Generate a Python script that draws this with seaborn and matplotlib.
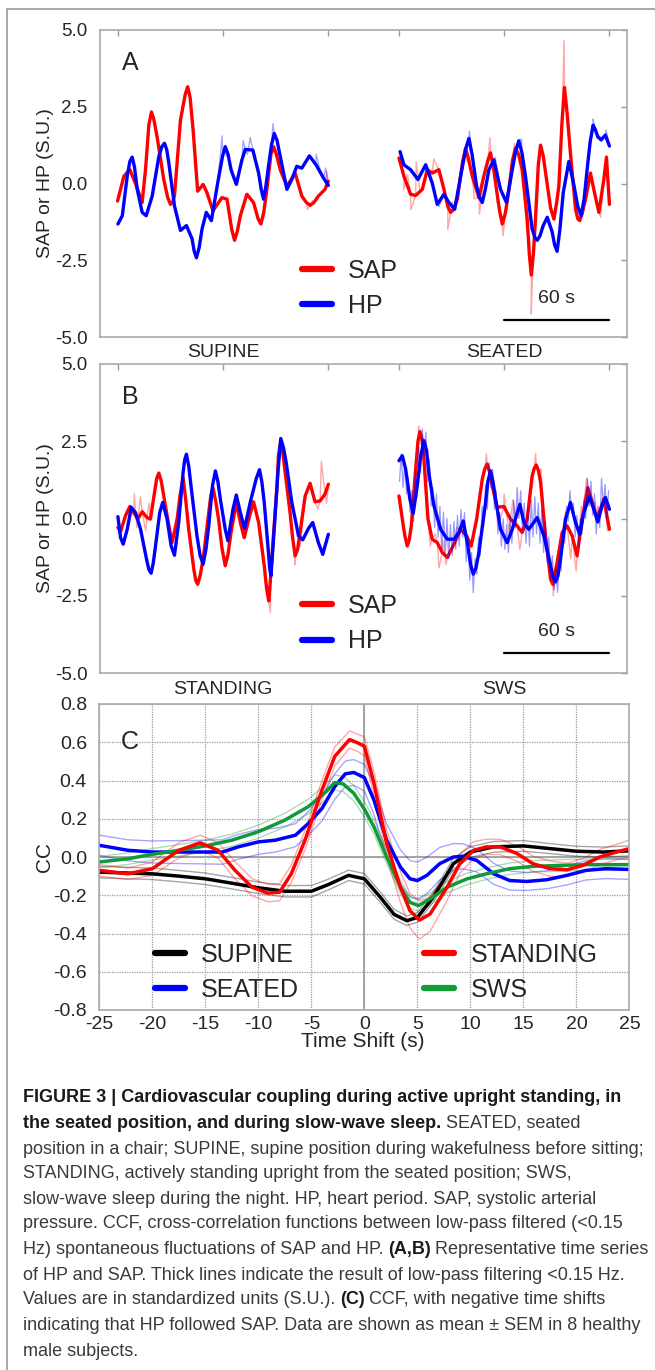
import numpy as np
import matplotlib
matplotlib.use('Agg')
import matplotlib.pyplot as plt
import matplotlib.transforms as mtransforms
from matplotlib.lines import Line2D
import seaborn as sns

sns.set_style('white')
plt.rcParams['font.family'] = ['Liberation Sans', 'DejaVu Sans']

# ---------------- Panel A: SUPINE (0-120 s) and SEATED (160-280 s) ----------------
supine_sap_t = [0, 3.6, 7.0, 10.2, 14.0, 15.9, 19.3, 22.5, 26.3, 30.1, 32.4, 35.8, 39.9, 43.0, 45.6, 48.7, 50.9,
                54.3, 59.4, 62.3, 66.6, 69.9, 73.6, 77.4, 81.6, 85.0, 88.8, 92.6, 96.4, 101.1, 104.9, 109.6,
                114.3, 118.1, 120]
supine_sap = [-0.57, 0.24, 0.45, 0.0, -0.62, 0.45, 2.33, 1.52, 0.13, -0.68, -0.4, 2.06, 3.15, 1.74, -0.25, -0.03,
              -0.3, -0.89, -0.46, -0.51, -1.85, -1.05, -0.35, -0.62, -1.32, -0.19, 1.2, 0.45, -0.09, 0.34, -0.41,
              -0.71, -0.41, -0.19, 0.07]
# extra points read around the peaks (shoulders of the smooth curve)
supine_sap_sh_t = [17.8, 20.6, 28.5, 31.4, 38.5, 41.3, 65.0, 68.2, 80.0, 83.2, 87.3, 90.4, 107.5, 111.8]
supine_sap_sh = [1.9, 2.1, -0.45, -0.6, 2.9, 2.8, -1.5, -1.55, -1.15, -0.95, 0.95, 0.95, -0.62, -0.62]
supine_hp_t = [0.2, 2.7, 5.5, 8.3, 11.2, 14.0, 16.3, 19.7, 23.5, 26.7, 29.2, 32.4, 35.8, 39.2, 42.4, 44.9, 48.1,
               50.5, 53.4, 57.0, 61.3, 64.6, 67.6, 70.8, 72.7, 77.0, 80.3, 83.1, 85.9, 89.2, 92.6, 96.4, 99.2,
               102.0, 104.9, 109.2, 113.0, 117.2, 120]
supine_hp = [-1.32, -1.05, 0.24, 0.86, -0.19, -0.94, -1.05, -0.41, 0.88, 1.31, 0.66, -0.73, -1.53, -1.37, -1.8,
             -2.42, -1.48, -0.94, -1.21, 0.02, 1.2, 0.45, -0.03, 0.77, 1.11, 1.09, 0.34, -0.51, 0.56, 1.63, 0.88,
             -0.19, 0.13, 0.56, 0.5, 0.9, 0.61, 0.18, -0.06]
supine_hp_sh_t = [7.0, 9.6, 25.2, 28.0, 43.6, 46.4, 59.8, 62.9, 81.8, 84.4, 87.6, 90.8]
supine_hp_sh = [0.72, 0.55, 1.2, 1.1, -2.2, -2.1, 0.9, 0.95, -0.2, -0.1, 1.25, 1.4]
# raw (unfiltered) beat values visible off the thick curves
supine_sap_raw_t = [108, 111, 116, 119]
supine_sap_raw = [-0.85, -0.55, -0.3, 0.4]
supine_hp_raw_t = [59.5, 61.8, 71.5, 74, 75.5, 88.5, 113, 116, 118.5]
supine_hp_raw = [1.55, 0.9, 1.4, 0.95, 1.5, 1.95, 0.95, 0.3, 0.5]

seated_sap_t = [160.2, 163.0, 166.8, 169.7, 173.5, 176.3, 179.1, 182.9, 185.8, 189.6, 193.4, 198.1, 201.9, 205.7,
                208.5, 212.3, 215.7, 219.0, 222.8, 226.5, 230.3, 233.2, 235.5, 237.9, 240.8, 244.2, 248.4, 251.2,
                254.4, 257.8, 260.7, 263.1, 266.4, 269.2, 271.5, 274.0, 276.8, 278.3, 280.0]
seated_sap = [0.83, 0.24, -0.35, -0.39, -0.19, 0.45, 0.34, 0.45, -0.19, -0.94, -0.51, 1.15, 0.24, -0.46, 0.24,
              1.0, -0.19, -1.32, -0.19, 1.15, 0.45, -1.16, -2.98, -1.16, 1.25, 0.13, -1.16, -0.09, 3.13, 0.99,
              -0.84, -1.21, -0.51, 0.34, -0.3, -0.94, 0.13, 0.86, -0.68]
seated_sap_sh_t = [188.0, 191.3, 196.4, 199.8, 210.8, 213.9, 217.5, 220.8, 224.8, 228.3, 234.4, 236.7, 239.5,
                   242.3, 246.5, 250.0, 253.0, 255.9, 262.0, 264.6]
seated_sap_sh = [-0.75, -0.85, 0.7, 0.8, 0.75, 0.55, -0.9, -0.95, 0.75, 0.95, -2.3, -2.3, 0.6, 0.9, -0.8, -0.6,
                 2.0, 2.3, -1.15, -0.95]
seated_hp_t = [160.8, 163.0, 166.8, 171.0, 175.4, 179.1, 182.0, 185.8, 188.6, 191.9, 195.3, 200.0, 204.4, 207.6,
               211.4, 214.2, 218.0, 221.4, 224.7, 228.4, 232.2, 236.0, 238.9, 242.3, 244.6, 247.4, 250.2, 253.7,
               256.9, 259.7, 263.9, 267.3, 270.7, 273.4, 275.3, 277.7, 280.0]
seated_hp = [1.04, 0.61, 0.45, 0.13, 0.61, 0.02, -0.68, -0.35, -0.62, -0.84, 0.24, 1.47, -0.09, -0.62, 0.45, 0.77,
             -0.19, -0.62, 0.45, 1.39, 0.24, -1.48, -1.85, -1.37, -1.1, -1.58, -2.21, -0.3, 0.72, -0.03, -1.05,
             0.45, 1.9, 1.52, 1.42, 1.58, 1.22]
seated_hp_sh_t = [198.3, 201.8, 206.0, 209.3, 226.6, 230.2, 237.5, 240.5, 248.8, 251.8, 262.0, 265.6, 269.0, 272.0]
seated_hp_sh = [1.15, 0.95, -0.45, -0.2, 1.05, 1.0, -1.75, -1.7, -2.0, -1.5, -0.75, -0.5, 1.35, 1.75]
seated_sap_raw_t = [163, 165, 167, 170, 172, 180, 188, 190.5, 199, 203, 206, 212, 216, 219.5, 226, 233, 235.5,
                    237.5, 254.2, 256, 275]
seated_sap_raw = [-0.2, 0.3, -0.85, 0.7, -0.2, 0.8, -1.5, -0.6, 0.7, -0.5, -1.0, 1.5, -0.6, -1.7, 1.3, -1.6,
                  -4.25, -2.0, 4.65, 1.9, -1.1]
seated_hp_raw_t = [173, 183, 200.3, 215, 230, 270.7, 274.5, 278]
seated_hp_raw = [0.35, -0.75, 1.7, 0.85, 1.45, 2.1, 1.55, 1.75]

# ---------------- Panel B: STANDING (0-120 s) and SWS (160-280 s) ----------------
standing_sap_t = [0.2, 1.7, 4.5, 7.0, 9.3, 11.5, 14.0, 16.8, 18.7, 21.2, 23.5, 26.3, 29.2, 31.0, 33.9, 37.3, 40.5,
                  43.4, 45.6, 48.7, 51.9, 54.3, 57.5, 61.3, 64.6, 67.6, 69.9, 72.1, 75.2, 77.4, 80.3, 83.5, 86.1,
                  88.8, 90.7, 92.6, 95.4, 98.2, 101.1, 103.9, 106.8, 109.6, 112.4, 115.3, 118.1, 120.0]
standing_sap = [-0.29, -0.43, 0.09, 0.39, 0.19, -0.02, 0.22, 0.03, -0.02, 0.9, 1.47, 0.73, -0.24, -0.78, -0.02,
                1.33, -0.35, -1.64, -2.13, -1.32, 0.19, 1.0, -0.02, -1.53, -0.45, 0.52, -0.13, -0.62, 0.09, 0.54,
                -0.13, -1.53, -2.67, -0.5, 1.0, 2.41, 1.49, 0.19, -1.21, -0.45, 0.73, 1.14, 0.54, 0.57, 0.79, 1.11]
standing_sap_sh_t = [22.3, 24.9, 35.6, 38.9, 44.5, 47.0, 53.1, 55.9, 59.4, 62.9, 84.8, 87.3, 91.6, 94.0, 99.6,
                     102.5]
standing_sap_sh = [1.3, 1.2, 0.75, 0.55, -2.0, -1.85, 0.75, 0.55, -0.95, -1.15, -2.25, -1.75, 2.05, 2.15, -0.6,
                   -1.0]
standing_hp_t = [0.2, 1.7, 3.2, 5.5, 7.8, 10.2, 13.1, 16.5, 19.1, 21.6, 24.0, 25.7, 28.2, 30.5, 32.4, 34.8, 37.3,
                 39.2, 41.8, 45.2, 48.7, 51.9, 55.7, 58.5, 61.3, 62.8, 65.7, 67.6, 69.9, 72.3, 75.5, 80.8, 83.5,
                 85.9, 87.3, 89.7, 92.9, 96.0, 99.2, 103.0, 105.4, 108.7, 111.1, 114.3, 116.8, 120.0]
standing_hp = [0.06, -0.62, -0.83, -0.35, 0.36, 0.19, -0.35, -1.32, -1.77, -0.89, 0.19, 0.52, -0.02, -0.89, -1.19,
               -0.13, 1.49, 2.08, 1.06, -0.56, -1.48, -0.24, 1.54, 0.63, -0.35, -0.72, 0.3, 0.76, 0.19, -0.32,
               0.52, 1.58, 0.52, -1.1, -1.86, 0.1, 2.59, 1.81, 0.52, -0.56, -0.69, -0.32, -0.13, -0.78, -1.16, -0.51]
standing_hp_sh_t = [17.8, 20.3, 38.2, 40.5, 47.0, 50.3, 54.0, 57.1, 79.0, 82.1, 86.6, 88.5, 91.3, 94.4]
standing_hp_sh = [-1.65, -1.45, 1.9, 1.7, -1.2, -1.0, 1.05, 1.2, 1.3, 1.2, -1.6, -0.9, 1.5, 2.3]
standing_sap_raw_t = [7.5, 9.5, 11, 13, 16, 18, 87, 101, 104, 114, 116, 119]
standing_sap_raw = [0.1, 0.8, -0.3, 0.7, -0.4, 0.5, -3.05, -1.5, -0.9, 0.3, 1.85, 0.5]

sws_sap_t = [160.2, 162.1, 164.9, 167.2, 169.7, 172.1, 174.4, 176.7, 179.1, 182.0, 184.8, 187.7, 191.5, 195.3,
             198.7, 201.3, 204.4, 207.6, 210.4, 213.3, 216.1, 219.9, 223.7, 227.5, 230.3, 233.2, 236.0, 238.3,
             240.8, 243.6, 246.5, 247.8, 250.2, 253.1, 255.9, 258.8, 261.6, 264.5, 267.7, 270.2, 273.0, 276.8, 280.0]
sws_sap = [0.73, -0.02, -0.89, -0.24, 1.6, 2.81, 1.92, -0.02, -0.67, -0.78, -1.1, -1.26, -0.83, -0.35, -0.56,
           -0.89, -0.02, 1.27, 1.76, 1.06, 0.36, 0.39, -0.02, -0.24, -0.45, -0.02, 1.38, 1.73, 1.17, -0.56, -1.97,
           -2.13, -1.43, -0.45, -0.24, -0.56, -1.21, -0.02, 1.0, 0.52, -0.02, 0.63, -0.35]
sws_sap_sh_t = [163.5, 166.0, 171.0, 173.3, 209.0, 211.8, 237.2, 239.6]
sws_sap_sh = [-0.55, -0.7, 2.5, 2.55, 1.6, 1.5, 1.62, 1.55]
sws_hp_t = [160.2, 162.1, 164.0, 166.4, 168.3, 170.6, 174.4, 177.3, 180.1, 183.9, 187.7, 191.5, 194.3, 196.8, 199.4,
            202.5, 205.7, 209.5, 212.3, 215.2, 218.0, 221.8, 224.7, 229.0, 231.3, 234.1, 238.9, 242.7, 246.5, 249.3,
            252.1, 255.0, 257.8, 260.7, 263.1, 265.4, 268.6, 271.1, 273.4, 275.8, 277.7, 280.0]
sws_hp = [1.87, 2.03, 1.6, 0.63, 0.17, 1.06, 2.52, 1.44, 0.41, -0.35, -0.67, -0.67, -0.45, -0.08, -0.89, -1.8, -1.1,
          0.52, 1.54, 0.63, -0.35, -0.78, -0.35, 0.46, -0.13, -0.35, 0.03, -0.56, -1.53, -2.05, -1.32, -0.02, 0.52,
          -0.13, -0.51, 0.19, 0.71, 0.3, -0.11, 0.41, 0.68, 0.3]
sws_hp_sh_t = [172.5, 175.9, 201.0, 204.0, 210.8, 213.7, 247.9, 250.7]
sws_hp_sh = [2.0, 2.2, -1.5, -1.6, 1.2, 1.2, -1.9, -1.85]
sws_sap_raw_t = [171.5, 173, 176, 178, 181, 183, 185, 187, 193, 200, 203, 210, 213, 218, 220, 223, 225, 229, 236,
                 238, 241, 245, 248, 251, 255, 258, 261, 264, 267, 272, 275, 279]
sws_sap_raw = [3.0, 2.5, 0.3, -0.9, -0.5, -1.6, -0.7, -1.5, -0.3, -1.1, -0.5, 2.1, 1.5, 0.0, 0.8, -0.5, 0.6, -1.0,
               1.0, 2.1, 1.6, -1.2, -2.5, -1.7, 0.2, -1.3, -1.7, 0.4, 1.3, 0.5, 0.3, -0.4]
# beat-by-beat HP during sleep (about one beat per second)
sws_hp_raw_t = np.arange(160.5, 280.0, 1.0)
sws_hp_raw = [1.2, 2.1, 1.0, 1.8, 0.8, 1.3, 0.2, 0.9, -0.1, 1.5,
              0.7, 2.3, 1.5, 2.9, 2.0, 2.8, 1.2, 1.9, 0.4, 1.0,
              -0.3, 0.8, -0.6, 0.4, -1.0, 0.2, -1.2, 0.0, -1.3, -0.2,
              -1.2, -0.1, -1.0, 0.1, -0.9, 0.3, -0.6, 0.2, -1.4, -0.6,
              -2.0, -1.1, -2.4, -1.3, -1.8, -0.6, -1.2, 0.4, -0.2, 1.1,
              0.3, 1.8, 1.0, 1.6, 0.3, 0.9, -0.5, 0.2, -0.9, 0.0,
              -1.0, -0.2, -1.1, 0.1, -0.8, 0.6, -0.3, 1.0, 0.0, 0.9,
              -0.4, 0.5, -0.8, 0.3, -0.9, 0.6, -0.6, 0.7, -0.5, 0.5,
              -0.8, 0.3, -1.1, -0.1, -1.4, -0.6, -1.9, -1.2, -2.3, -1.6,
              -2.4, -1.2, -1.7, -0.4, -0.8, 0.4, -0.1, 0.9, 0.2, 0.5,
              -0.6, 0.1, -0.9, 0.0, -0.5, 0.6, 0.0, 1.3, 0.4, 1.2,
              0.1, 0.8, -0.5, 0.4, -0.3, 1.3, 0.4, 1.1, 0.0, 0.9]

segment_ticks = [0, 60, 120, 160, 220, 280]
scale_bar_t = [220, 280]

# ---------------- Panel C: cross-correlation functions (mean +/- SEM) ----------------
cc_supine_t = [-25, -22.3, -20, -17.5, -15, -12.5, -10, -7.5, -5, -3.4, -1.5, 0, 1.5, 2.8, 4.0, 5.0, 6.5, 8.4, 10,
               12.2, 15, 17.5, 20, 22.5, 25]
cc_supine = [-0.079, -0.084, -0.088, -0.1, -0.114, -0.137, -0.161, -0.179, -0.179, -0.144, -0.096, -0.114, -0.21,
             -0.30, -0.333, -0.316, -0.21, -0.035, 0.026, 0.053, 0.058, 0.044, 0.03, 0.026, 0.032]
cc_supine_sem = [0.03, 0.03, 0.03, 0.03, 0.03, 0.03, 0.03, 0.03, 0.03, 0.028, 0.027, 0.027, 0.027, 0.026, 0.025,
                 0.025, 0.026, 0.028, 0.028, 0.028, 0.028, 0.026, 0.026, 0.026, 0.026]
cc_standing_t = [-25, -22.3, -20, -17.5, -15.5, -13.8, -12.2, -10.6, -9.1, -8.0, -6.9, -5.6, -4.0, -2.8, -1.4, -0.6,
                 0, 0.9, 2.1, 3.4, 4.3, 5.2, 6.2, 7.8, 9.0, 10.3, 11.5, 12.8, 14.4, 15.9, 17.5, 19.1, 20.6, 22.2,
                 23.8, 25]
cc_standing = [-0.07, -0.088, -0.061, 0.035, 0.074, 0.035, -0.07, -0.158, -0.189, -0.184, -0.088, 0.088, 0.35,
               0.526, 0.614, 0.596, 0.579, 0.386, 0.07, -0.158, -0.281, -0.33, -0.298, -0.158, -0.035, 0.035,
               0.053, 0.053, 0.018, -0.035, -0.061, -0.067, -0.044, 0.0, 0.026, 0.044]
cc_standing_sem = [0.03, 0.03, 0.035, 0.04, 0.04, 0.04, 0.045, 0.045, 0.045, 0.045, 0.045, 0.05, 0.05, 0.05, 0.045,
                   0.045, 0.05, 0.06, 0.07, 0.08, 0.09, 0.1, 0.09, 0.07, 0.05, 0.045, 0.04, 0.04, 0.04, 0.04, 0.04,
                   0.035, 0.035, 0.04, 0.04, 0.045]
cc_seated_t = [-25, -22.3, -20, -17.5, -15, -13.4, -11.9, -10, -8.4, -6.5, -5.3, -4.0, -2.8, -1.8, -1.0, 0, 0.9,
               2.1, 3.4, 4.3, 5.0, 5.9, 7.1, 8.4, 9.3, 10.6, 12.2, 13.7, 15.3, 17.2, 19.1, 20.9, 22.8, 25]
cc_seated = [0.061, 0.035, 0.026, 0.026, 0.026, 0.026, 0.053, 0.079, 0.088, 0.114, 0.175, 0.254, 0.368, 0.435,
             0.442, 0.415, 0.298, 0.088, -0.053, -0.114, -0.123, -0.096, -0.035, 0.0, 0.004, -0.018, -0.088,
             -0.123, -0.128, -0.119, -0.096, -0.07, -0.061, -0.065]
cc_seated_sem = [0.053, 0.055, 0.058, 0.06, 0.062, 0.064, 0.065, 0.065, 0.062, 0.06, 0.062, 0.065, 0.067, 0.067,
                 0.067, 0.07, 0.075, 0.085, 0.09, 0.095, 0.097, 0.095, 0.085, 0.07, 0.065, 0.06, 0.055, 0.05,
                 0.047, 0.047, 0.05, 0.05, 0.052, 0.052]
cc_sws_t = [-25, -22.3, -20, -17.5, -15, -12.5, -10, -7.5, -5.3, -3.7, -2.8, -2.0, -1.0, 0, 0.9, 2.1, 3.4, 4.3, 5.1,
            6.2, 7.8, 9.7, 11.5, 13.7, 15.9, 18.4, 20.9, 25]
cc_sws = [-0.026, -0.009, 0.014, 0.035, 0.058, 0.088, 0.132, 0.193, 0.263, 0.337, 0.389, 0.382, 0.333, 0.25, 0.158,
          0.0, -0.158, -0.237, -0.254, -0.219, -0.158, -0.114, -0.088, -0.061, -0.049, -0.044, -0.04, -0.04]
cc_sws_sem = [0.03, 0.03, 0.03, 0.03, 0.03, 0.032, 0.034, 0.036, 0.038, 0.04, 0.04, 0.04, 0.04, 0.04, 0.038,
              0.035, 0.032, 0.03, 0.03, 0.03, 0.03, 0.03, 0.03, 0.03, 0.03, 0.03, 0.03, 0.03]
cc_ticks_x = [-25, -20, -15, -10, -5, 0, 5, 10, 15, 20, 25]
cc_ticks_y = [0.8, 0.6, 0.4, 0.2, 0.0, -0.2, -0.4, -0.6, -0.8]

RED, BLUE, GREEN = '#ff0000', '#0000ff', '#119a38'
W, H = 655, 1370

fig = plt.figure(figsize=(W / 100, H / 100), dpi=100)
axA = fig.add_axes([100 / W, 1 - 337 / H, 527 / W, 307 / H])
axB = fig.add_axes([100 / W, 1 - 673 / H, 527 / W, 309 / H])
axC = fig.add_axes([99.4 / W, 1 - 1010 / H, 530 / W, 306 / H])


def trace(ax, t, v, color, lw, alpha=1.0):
    sns.lineplot(x=np.asarray(t, float), y=np.asarray(v, float), color=color, lw=lw, alpha=alpha,
                 ax=ax, estimator=None, sort=False, legend=False,
                 solid_joinstyle='round', solid_capstyle='round')


def merged(t, v, rt, rv):
    tt = np.concatenate([np.asarray(t, float), np.asarray(rt, float)])
    vv = np.concatenate([np.asarray(v, float), np.asarray(rv, float)])
    order = np.argsort(tt, kind='stable')
    return tt[order], vv[order]


def setup_ts(ax, letter, left_name, right_name, bar_level, label_level):
    ax.set_xlim(-10, 290)
    ax.set_ylim(-5, 5)
    ax.set_xticks(segment_ticks)
    ax.set_yticks([-5, -2.5, 0, 2.5, 5])
    ax.set_yticklabels(['-5.0', '-2.5', '0.0', '2.5', '5.0'])
    ax.tick_params(direction='in', top=True, right=True, length=4, width=1, color='#999999',
                   labelsize=13.5, pad=9, labelbottom=False)
    for s in ax.spines.values():
        s.set_color('#aaaaaa')
        s.set_linewidth(1.2)
    ax.set_xlabel('')
    ax.set_ylabel('SAP or HP (S.U.)', fontsize=14)
    ax.yaxis.set_label_coords(-0.087, 0.5)
    ax.text(0.057, 0.8925, letter, transform=ax.transAxes, fontsize=18, ha='center', va='center')
    trans = mtransforms.blended_transform_factory(ax.transData, ax.transAxes)
    ax.text(60, -0.052, left_name, transform=trans, fontsize=14, ha='center', va='center')
    ax.text(220, -0.052, right_name, transform=trans, fontsize=14, ha='center', va='center')
    ax.plot(scale_bar_t, [bar_level, bar_level], color='black', lw=1.6)
    ax.text(np.mean(scale_bar_t), label_level, '60 s', fontsize=14, ha='center', va='center')
    handles = [Line2D([], [], color=RED, lw=4.5), Line2D([], [], color=BLUE, lw=4.5)]
    ax.legend(handles, ['SAP', 'HP'], loc='upper left', bbox_to_anchor=(0.383, 0.255), frameon=False,
              fontsize=18, handlelength=1.2, handletextpad=0.65, labelspacing=0.45, borderpad=0,
              borderaxespad=0)


panel_series = [
    (axA, [(supine_sap_t, supine_sap, supine_sap_sh_t, supine_sap_sh, supine_sap_raw_t, supine_sap_raw, RED),
           (supine_hp_t, supine_hp, supine_hp_sh_t, supine_hp_sh, supine_hp_raw_t, supine_hp_raw, BLUE),
           (seated_sap_t, seated_sap, seated_sap_sh_t, seated_sap_sh, seated_sap_raw_t, seated_sap_raw, RED),
           (seated_hp_t, seated_hp, seated_hp_sh_t, seated_hp_sh, seated_hp_raw_t, seated_hp_raw, BLUE)]),
    (axB, [(standing_sap_t, standing_sap, standing_sap_sh_t, standing_sap_sh, standing_sap_raw_t,
            standing_sap_raw, RED),
           (standing_hp_t, standing_hp, standing_hp_sh_t, standing_hp_sh, [], [], BLUE),
           (sws_sap_t, sws_sap, sws_sap_sh_t, sws_sap_sh, sws_sap_raw_t, sws_sap_raw, RED)]),
]
for ax, series in panel_series:
    for t, v, st, sv, rt, rv, col in series:
        ft, fv = merged(t, v, st, sv)
        rt2, rv2 = merged(ft, fv, rt, rv)
        trace(ax, rt2, rv2, col, 1.0, alpha=0.35)
        trace(ax, ft, fv, col, 2.4)

trace(axB, sws_hp_raw_t, sws_hp_raw, BLUE, 0.9, alpha=0.4)
ft, fv = merged(sws_hp_t, sws_hp, sws_hp_sh_t, sws_hp_sh)
trace(axB, ft, fv, BLUE, 2.4)

setup_ts(axA, 'A', 'SUPINE', 'SEATED', -4.45, -3.73)
setup_ts(axB, 'B', 'STANDING', 'SWS', -4.35, -3.67)

# Panel C
axC.set_xlim(-25, 25)
axC.set_ylim(-0.8, 0.8)
axC.set_xticks(cc_ticks_x)
axC.set_xticklabels([str(v) for v in cc_ticks_x])
axC.set_yticks(cc_ticks_y)
axC.set_yticklabels(['%.1f' % v for v in cc_ticks_y])
axC.grid(True, ls=(0, (1, 1)), color='#9a9a9a', lw=0.9)
axC.axhline(0, color='#a0a0a0', lw=1.3, zorder=1)
axC.axvline(0, color='#a0a0a0', lw=1.3, zorder=1)
axC.tick_params(direction='in', length=0, labelsize=14, pad=9)
axC.tick_params(axis='x', pad=4)
for s in axC.spines.values():
    s.set_color('#aaaaaa')
    s.set_linewidth(1.2)

cc_series = [(cc_supine_t, cc_supine, cc_supine_sem, 'black'),
             (cc_seated_t, cc_seated, cc_seated_sem, BLUE),
             (cc_sws_t, cc_sws, cc_sws_sem, GREEN),
             (cc_standing_t, cc_standing, cc_standing_sem, RED)]
for t, m, s, col in cc_series:
    m = np.asarray(m)
    s = np.asarray(s)
    trace(axC, t, m + s, col, 1.0, alpha=0.35)
    trace(axC, t, m - s, col, 1.0, alpha=0.35)
for t, m, s, col in cc_series:
    trace(axC, t, m, col, 2.5)

axC.set_xlabel('Time Shift (s)', fontsize=15)
axC.xaxis.set_label_coords(0.497, -0.073)
axC.set_ylabel('CC', fontsize=15)
axC.yaxis.set_label_coords(-0.086, 0.5)
axC.text(0.058, 0.875, 'C', transform=axC.transAxes, fontsize=18, ha='center', va='center')
leg_handles = [Line2D([], [], color='black', lw=4.5), Line2D([], [], color=BLUE, lw=4.5),
               Line2D([], [], color=RED, lw=4.5), Line2D([], [], color=GREEN, lw=4.5)]
axC.legend(leg_handles, ['SUPINE', 'SEATED', 'STANDING', 'SWS'], ncol=2, loc='upper left',
           bbox_to_anchor=(0.105, 0.22), frameon=False, fontsize=18, handlelength=1.2,
           handletextpad=0.65, labelspacing=0.45, columnspacing=5.0, borderpad=0, borderaxespad=0)

# Frame around the figure
fig.add_artist(Line2D([7 / W, 7 / W], [0, 1 - 9 / H], transform=fig.transFigure, color='#9a9a9a', lw=1.2))
fig.add_artist(Line2D([7 / W, 1], [1 - 9 / H, 1 - 9 / H], transform=fig.transFigure, color='#9a9a9a', lw=1.2))

# Caption
caption = [
    (1098, [('FIGURE 3 | Cardiovascular coupling during active upright standing, in', True)]),
    (1123, [('the seated position, and during slow-wave sleep.', True), ('SEATED, seated', False)]),
    (1149, [('position in a chair; SUPINE, supine position during wakefulness before sitting;', False)]),
    (1174, [('STANDING, actively standing upright from the seated position; SWS,', False)]),
    (1199, [('slow-wave sleep during the night. HP, heart period. SAP, systolic arterial', False)]),
    (1224, [('pressure. CCF, cross-correlation functions between low-pass filtered (<0.15', False)]),
    (1250, [('Hz) spontaneous fluctuations of SAP and HP.', False), ('(A,B)', True),
            ('Representative time series', False)]),
    (1275, [('of HP and SAP. Thick lines indicate the result of low-pass filtering <0.15 Hz.', False)]),
    (1300, [('Values are in standardized units (S.U.).', False), ('(C)', True),
            ('CCF, with negative time shifts', False)]),
    (1325, [('indicating that HP followed SAP. Data are shown as mean \u00b1 SEM in 8 healthy', False)]),
    (1352, [('male subjects.', False)]),
]
renderer = fig.canvas.get_renderer()
for y_px, parts in caption:
    x = 23 / W
    for txt, bold in parts:
        t = fig.text(x, 1 - y_px / H, txt, fontsize=13.0, ha='left', va='center',
                     fontweight='bold' if bold else 'normal', color='#1a1a1a' if bold else '#3a3a3a')
        bb = t.get_window_extent(renderer)
        x = bb.x1 / fig.bbox.width + 4.5 / W

fig.savefig('out.png', dpi=100)
